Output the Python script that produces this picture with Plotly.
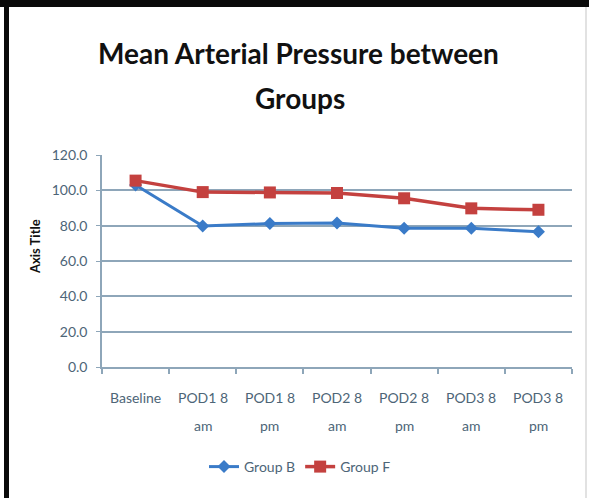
import plotly.graph_objects as go

# Chart data
categories = ["Baseline", "POD1 8 am", "POD1 8 pm", "POD2 8 am", "POD2 8 pm", "POD3 8 am", "POD3 8 pm"]
label_line1 = ["Baseline", "POD1 8", "POD1 8", "POD2 8", "POD2 8", "POD3 8", "POD3 8"]
label_line2 = ["", "am", "pm", "am", "pm", "am", "pm"]
group_b = [103.0, 79.8, 81.2, 81.5, 78.5, 78.5, 76.6]
group_f = [105.5, 99.0, 98.8, 98.5, 95.5, 89.8, 89.0]

W, H = 589, 498
L, R, T, B = 102, 572, 155, 367  # plot area in pixels

def px_x(x):
    return (x - L) / (R - L)

def px_y(y):
    return (B - y) / (B - T)

AXIS_COLOR = "#8ea6b9"
TICK_COLOR = "#4d6577"
FONT = "Lato"

fig = go.Figure()
fig.add_trace(go.Scatter(
    x=categories, y=group_b, name="Group B", mode="lines+markers",
    line=dict(color="#3a7bc8", width=3),
    marker=dict(symbol="diamond", size=10, color="#3a7bc8"),
))
fig.add_trace(go.Scatter(
    x=categories, y=group_f, name="Group F", mode="lines+markers",
    line=dict(color="#c4413f", width=3.5),
    marker=dict(symbol="square", size=12, color="#c4413f"),
))

annotations = []
# Title
annotations.append(dict(text="<b>Mean Arterial Pressure between</b>", xref="paper", yref="paper",
                        x=px_x(298), y=px_y(72), xanchor="center", yanchor="bottom",
                        showarrow=False, font=dict(family=FONT, size=28, color="#111111")))
annotations.append(dict(text="<b>Groups</b>", xref="paper", yref="paper",
                        x=px_x(300), y=px_y(117), xanchor="center", yanchor="bottom",
                        showarrow=False, font=dict(family=FONT, size=28, color="#111111")))
# Axis title
annotations.append(dict(text="<b>Axis Title</b>", xref="paper", yref="paper",
                        x=px_x(35), y=px_y(247), xanchor="center", yanchor="middle",
                        textangle=-90, showarrow=False,
                        font=dict(family=FONT, size=13, color="#111111")))
# Category labels (two lines each)
for i, (a, b) in enumerate(zip(label_line1, label_line2)):
    annotations.append(dict(text=a, xref="x", yref="paper", x=i, y=px_y(397),
                            xanchor="center", yanchor="middle", showarrow=False,
                            font=dict(family=FONT, size=14, color=TICK_COLOR)))
    if b:
        annotations.append(dict(text=b, xref="x", yref="paper", x=i, y=px_y(425),
                                xanchor="center", yanchor="middle", showarrow=False,
                                font=dict(family=FONT, size=14, color=TICK_COLOR)))

shapes = [
    # frame
    dict(type="rect", xref="paper", yref="paper", x0=px_x(0), x1=px_x(W), y0=px_y(0), y1=px_y(7),
         fillcolor="#0a0a0a", line=dict(width=0), layer="above"),
    dict(type="rect", xref="paper", yref="paper", x0=px_x(4), x1=px_x(9), y0=px_y(H), y1=px_y(0),
         fillcolor="#0a0a0a", line=dict(width=0), layer="above"),
    dict(type="line", xref="paper", yref="paper", x0=px_x(586), x1=px_x(586), y0=px_y(H), y1=px_y(7),
         line=dict(color="#d8d8d8", width=1.5)),
]

fig.update_layout(
    width=W, height=H, autosize=False,
    margin=dict(l=L, r=W - R, t=T, b=H - B),
    paper_bgcolor="white", plot_bgcolor="white",
    showlegend=True,
    legend=dict(orientation="h", x=px_x(300), xanchor="center", y=px_y(467), yanchor="middle",
                font=dict(family=FONT, size=14, color=TICK_COLOR), itemwidth=30,
                bgcolor="rgba(0,0,0,0)"),
    annotations=annotations,
    shapes=shapes,
    xaxis=dict(type="category", showticklabels=False, showgrid=False,
               showline=True, linecolor=AXIS_COLOR, linewidth=2,
               ticks="outside", ticklen=5, tickcolor=AXIS_COLOR, tickwidth=1.5,
               tickson="boundaries", range=[-0.5, 6.5], zeroline=False),
    yaxis=dict(range=[0, 120], dtick=20, tickformat=".1f",
               showgrid=True, gridcolor=AXIS_COLOR, gridwidth=2,
               showline=True, linecolor=AXIS_COLOR, linewidth=1.5,
               ticks="outside", ticklen=4, tickcolor=AXIS_COLOR,
               ticklabelstandoff=6,
               tickfont=dict(family=FONT, size=14, color=TICK_COLOR),
               zeroline=False),
)

fig.write_html("out.html")
